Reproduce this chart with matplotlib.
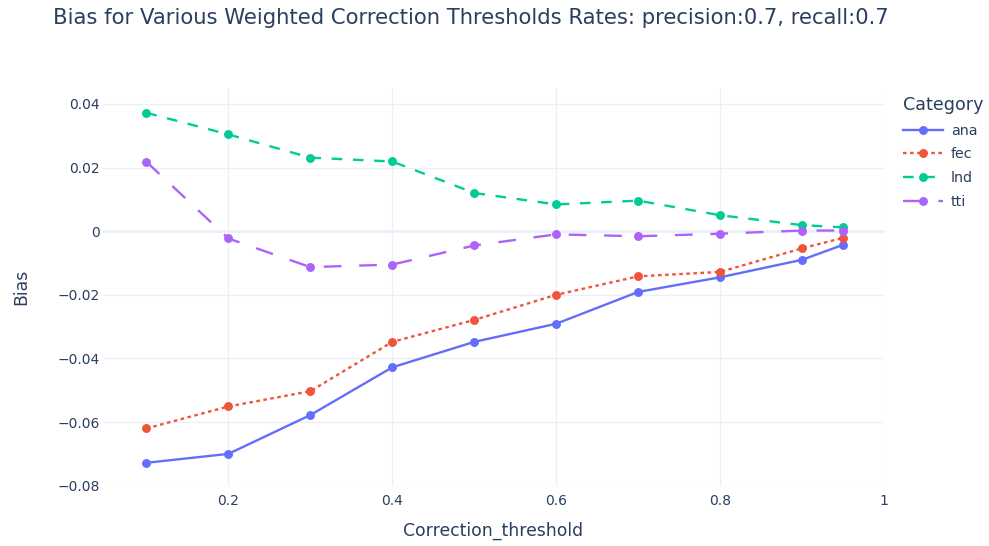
import matplotlib.pyplot as plt

thresholds = [0.1, 0.2, 0.3, 0.4, 0.5, 0.6, 0.7, 0.8, 0.9, 0.95]
ana = [-0.0728, -0.0700, -0.0578, -0.0428, -0.0348, -0.0291, -0.0191, -0.0145, -0.0090, -0.0043]
fec = [-0.0620, -0.0551, -0.0503, -0.0348, -0.0279, -0.0200, -0.0142, -0.0128, -0.0054, -0.0021]
lnd = [0.0372, 0.0304, 0.0231, 0.0219, 0.0120, 0.0084, 0.0096, 0.0050, 0.0019, 0.0012]
tti = [0.0218, -0.0023, -0.0113, -0.0105, -0.0045, -0.0010, -0.0016, -0.0008, 0.0002, 0.0002]

x_ticks = [0.2, 0.4, 0.6, 0.8, 1.0]
x_tick_labels = ["0.2", "0.4", "0.6", "0.8", "1"]
y_ticks = [-0.08, -0.06, -0.04, -0.02, 0, 0.02, 0.04]
y_tick_labels = ["\u22120.08", "\u22120.06", "\u22120.04", "\u22120.02", "0", "0.02", "0.04"]

plt.rcParams['font.family'] = ['DejaVu Sans']
text_col = '#2a3f5f'
grid_col = '#EBF0F8'

fig = plt.figure(figsize=(9.89, 5.46), dpi=100)
ax = fig.add_axes([103 / 989, 60 / 546, 781 / 989, 398 / 546])

series = [
    ("ana", ana, '#636EFA', '-'),
    ("fec", fec, '#EF553B', (0, (1.5, 1.5))),
    ("lnd", lnd, '#00CC96', (0, (4.5, 4.5))),
    ("tti", tti, '#AB63FA', (0, (7.5, 7.5))),
]
for name, vals, col, ls in series:
    ax.plot(thresholds, vals, color=col, linestyle=ls, linewidth=1.7,
            marker='o', markersize=5.4, label=name, dash_capstyle='butt')

ax.set_xlim(0.047, 1.0)
ax.set_ylim(-0.0801, 0.045)
ax.set_xticks(x_ticks)
ax.set_xticklabels(x_tick_labels)
ax.set_yticks(y_ticks)
ax.set_yticklabels(y_tick_labels)

ax.grid(True, color=grid_col, linewidth=1)
ax.axhline(0, color=grid_col, linewidth=2, zorder=0.5)
ax.set_axisbelow(True)
for s in ax.spines.values():
    s.set_visible(False)
ax.tick_params(length=0, colors=text_col, labelsize=10)
ax.tick_params(axis='x', pad=5.5)
ax.tick_params(axis='y', pad=2)

ax.set_xlabel("Correction_threshold", fontsize=12.4, color=text_col, va='center')
ax.xaxis.set_label_coords(0.5, -(531 - 486) / 398)
ax.set_ylabel("Bias", fontsize=12.4, color=text_col, va='center')
ax.yaxis.set_label_coords((21 - 103) / 781, 0.5)

fig.text(53 / 989, 1 - 18 / 546,
         "Bias for Various Weighted Correction Thresholds Rates: precision:0.7, recall:0.7",
         fontsize=15.2, color=text_col, ha='left', va='center')

leg = ax.legend(title="Category", loc='upper left',
                bbox_to_anchor=(903 / 989, 1 - 96 / 546), bbox_transform=fig.transFigure,
                frameon=False, fontsize=10.3, title_fontsize=12.6, handlelength=2.8,
                labelspacing=0.68, alignment='left', handletextpad=0.55, borderpad=0,
                borderaxespad=0)
for t in leg.get_texts():
    t.set_color(text_col)
leg.get_title().set_color(text_col)

fig.savefig("out.png", dpi=100)
